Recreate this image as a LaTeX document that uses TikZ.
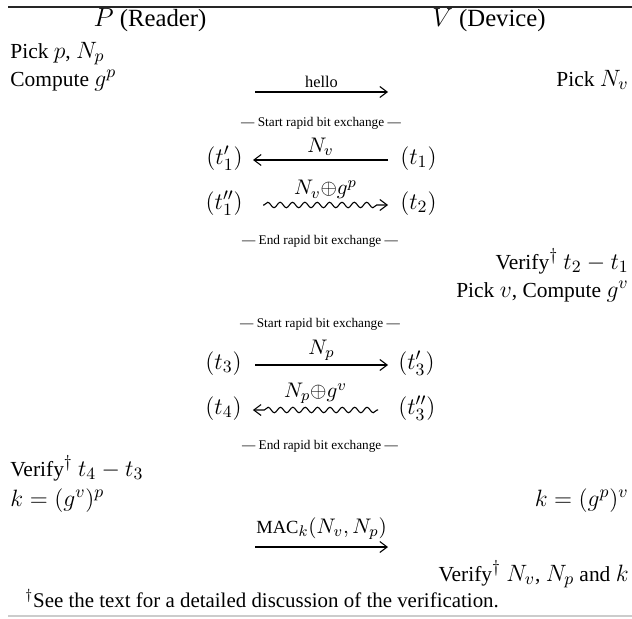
\RequirePackage{fix-cm}
\documentclass[tikz,border=0pt]{standalone}
\usepackage[no-math]{fontspec}
\setmainfont{Liberation Serif}
\DeclareMathSizes{11.8}{13}{9.5}{7.5}
\DeclareMathSizes{10.2}{11.6}{8.5}{6.5}
\DeclareMathSizes{13.6}{14.4}{10}{8}
\usetikzlibrary{arrows.meta,decorations.pathmorphing}

\begin{document}
\begin{tikzpicture}[x=0.55pt,y=-0.55pt,
  font=\fontsize{11.8}{14}\selectfont,
  >={Straight Barb[length=4pt,width=6pt]},
  party/.style={font=\fontsize{13.6}{16}\selectfont,inner sep=0pt,anchor=mid},
  lstep/.style={anchor=mid west,inner sep=0pt},
  rstep/.style={anchor=mid east,inner sep=0pt},
  phase/.style={font=\fontsize{7.3}{8}\selectfont,inner sep=0pt,anchor=mid},
  stamp/.style={inner sep=0pt},
  tag/.style={font=\fontsize{10.2}{12}\selectfont,inner sep=2pt,above},
  msg/.style={->,line width=0.6pt},
  fastmsg/.style={->,line width=0.6pt,decorate,decoration={snake,amplitude=1.5pt,segment length=6.8pt,pre length=0.5pt,post length=3pt}}
]
  \useasboundingbox (0,0) rectangle (632,618);
  \draw[line width=0.9pt,black!85] (8,7) -- (632,7);
  \draw[line width=0.6pt,black!20] (8,616) -- (632,616);

  \node[party] (reader) at (150,22) {$P$ (Reader)};
  \node[party] (device) at (489,22) {$V$ (Device)};

  \node[lstep] (pickp) at (10,54) {Pick $p$, $N_p$};
  \node[lstep] (computep) at (10,82) {Compute $g^p$};
  \node[rstep] (picknv) at (629,82) {Pick $N_v$};
  \coordinate (hellofrom) at (255,92);
  \coordinate (helloto) at (388,92);
  \draw[msg] (hellofrom) -- (helloto) node[tag,midway,font=\fontsize{9}{11}\selectfont] {hello};

  \node[phase] (start1) at (321,122) {--- Start rapid bit exchange ---};
  \node[stamp,anchor=mid east] (t1p) at (243,160) {$(t_1')$};
  \node[stamp,anchor=mid west] (t1) at (400,160) {$(t_1)$};
  \draw[msg] ([xshift=-6.6pt]t1.mid west) -- ([xshift=5.5pt]t1p.mid east) node[tag,midway] {$N_v$};
  \node[stamp,anchor=mid east] (t1pp) at (243,205) {$(t_1'')$};
  \node[stamp,anchor=mid west] (t2) at (400,205) {$(t_2)$};
  \draw[fastmsg] ([xshift=11pt]t1pp.mid east) -- ([xshift=-6.6pt]t2.mid west) node[tag,midway,yshift=1pt] {$N_v{\oplus}g^p$};
  \node[phase] (end1) at (320,240) {--- End rapid bit exchange ---};

  \node[rstep] (verify21) at (629,265) {Verify$^\dagger$ $t_2-t_1$};
  \node[rstep] (pickv) at (629,293) {Pick $v$, Compute $g^v$};

  \node[phase] (start2) at (320,323) {--- Start rapid bit exchange ---};
  \node[stamp,anchor=mid east] (t3) at (242,365) {$(t_3)$};
  \node[stamp,anchor=mid west] (t3p) at (398,365) {$(t_3')$};
  \draw[msg] ([xshift=7.2pt]t3.mid east) -- ([xshift=-5.5pt]t3p.mid west) node[tag,midway] {$N_p$};
  \node[stamp,anchor=mid east] (t4) at (242,410) {$(t_4)$};
  \node[stamp,anchor=mid west] (t3pp) at (398,410) {$(t_3'')$};
  \draw[fastmsg] ([xshift=-11pt]t3pp.mid west) -- ([xshift=6pt]t4.mid east) node[tag,midway,yshift=1pt] {$N_p{\oplus}g^v$};
  \node[phase] (end2) at (320,445) {--- End rapid bit exchange ---};

  \node[lstep] (verify43) at (10,472) {Verify$^\dagger$ $t_4-t_3$};
  \node[lstep] (kreader) at (10,502) {$k=(g^v)^p$};
  \node[rstep] (kdevice) at (629,502) {$k=(g^p)^v$};
  \coordinate (macfrom) at (255,547);
  \coordinate (macto) at (388,547);
  \draw[msg] (macfrom) -- (macto) node[tag,midway,yshift=2pt] {MAC$_k(N_v,N_p)$};
  \node[rstep] (verifyk) at (629,577) {Verify$^\dagger$ $N_v$, $N_p$ and $k$};

  \node[lstep] (note) at (25,603) {\fontsize{11.5}{14}\selectfont$^\dagger$See the text for a detailed discussion of the verification.};
\end{tikzpicture}
\end{document}
